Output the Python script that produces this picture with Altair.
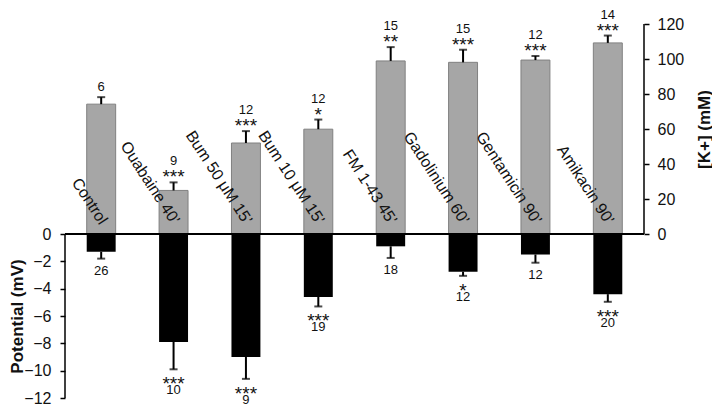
import altair as alt
import pandas as pd

categories = ["Control", "Ouabaine 40\u2019", "Bum 50 \u03bcM 15\u2019", "Bum 10 \u03bcM 15\u2019",
              "FM 1-43 45\u2019", "Gadolinium 60\u2019", "Gentamicin 90\u2019", "Amikacin 90\u2019"]
k_mean = [74.2, 24.9, 52.0, 59.9, 98.9, 98.1, 99.4, 109.2]
k_err = [4.0, 4.6, 6.8, 5.5, 7.9, 7.2, 2.3, 4.2]
k_n = ["6", "9", "12", "12", "15", "15", "12", "14"]
k_sig = ["", "***", "***", "*", "**", "***", "***", "***"]
pot_mean = [-1.3, -7.9, -9.0, -4.6, -0.9, -2.76, -1.5, -4.4]
pot_err = [0.5, 2.0, 1.6, 0.7, 0.85, 0.3, 0.6, 0.56]
pot_n = ["26", "10", "9", "19", "18", "12", "12", "20"]
pot_sig = ["", "***", "***", "***", "", "*", "", "***"]

mv_ticks = [-12, -10, -8, -6, -4, -2, 0]
k_ticks = [0, 20, 40, 60, 80, 100, 120]

df = pd.DataFrame({
    "cat": categories,
    "k": k_mean,
    "k_hi": [m + e for m, e in zip(k_mean, k_err)],
    "k_n": k_n,
    "k_sig": k_sig,
    "pot": pot_mean,
    "pot_lo": [m - e for m, e in zip(pot_mean, pot_err)],
    "pot_n": pot_n,
    "pot_sig": pot_sig,
})
mv_axis_df = pd.DataFrame({"lo": [min(mv_ticks)], "hi": [max(mv_ticks)]})
k_axis_df = pd.DataFrame({"lo": [min(k_ticks)], "hi": [max(k_ticks)]})

W, H = 579, 374
FONT = "Liberation Sans"
NUM_FS = 13
STAR_FS = 19
# zero line shared by both axes: 164 px above the bottom of the 374 px plot
mv_scale = alt.Scale(domain=[-12, 15.37], nice=False, zero=False)
k_scale = alt.Scale(domain=[-93.7, 120], nice=False, zero=False)
X = alt.X("cat:N", sort=categories, axis=None,
          scale=alt.Scale(paddingInner=0.6, paddingOuter=0.3))

base = alt.Chart(df)

mv_axis = alt.Axis(values=mv_ticks, domain=False, grid=False, tickColor="black", tickWidth=1.5,
                   tickSize=5, labelPadding=9, labelFontSize=16, labelFont=FONT, labelColor="#111",
                   title="Potential (mV)", titleFont=FONT, titleFontSize=17, titleFontWeight="bold",
                   titleColor="#111", titleAngle=270, titleAlign="center", titleBaseline="middle",
                   titleX=-48, titleY=292, orient="left")
k_axis = alt.Axis(values=k_ticks, domain=False, grid=False, tickColor="black", tickWidth=1.5,
                  tickSize=5, labelPadding=8, labelFontSize=16, labelFont=FONT, labelColor="#111",
                  title="[K+] (mM)", titleFont=FONT, titleFontSize=17, titleFontWeight="bold",
                  titleColor="#111", titleAngle=270, titleAlign="center", titleBaseline="middle",
                  titleX=60, titleY=105, orient="right")

# ---- potential (left axis, downward black bars)
black_bars = base.mark_bar(color="black").encode(
    x=X, y=alt.Y("pot:Q", scale=mv_scale, axis=mv_axis), y2=alt.datum(0))
pot_err_line = base.mark_rule(color="black", strokeWidth=2).encode(
    x=X, y=alt.Y("pot:Q", scale=mv_scale), y2="pot_lo:Q")
pot_cap = base.mark_tick(color="black", size=8, thickness=2).encode(
    x=X, y=alt.Y("pot_lo:Q", scale=mv_scale))
pot_stars = base.mark_text(baseline="alphabetic", dy=21, fontSize=STAR_FS, font=FONT,
                           color="#111").encode(
    x=X, y=alt.Y("pot_lo:Q", scale=mv_scale), text="pot_sig:N"
).transform_filter(alt.datum.pot_sig != "")
pot_n_star = base.mark_text(baseline="alphabetic", dy=25, fontSize=NUM_FS, font=FONT,
                            color="#111").encode(
    x=X, y=alt.Y("pot_lo:Q", scale=mv_scale), text="pot_n:N"
).transform_filter(alt.datum.pot_sig != "")
pot_n_plain = base.mark_text(baseline="alphabetic", dy=16, fontSize=NUM_FS, font=FONT,
                             color="#111").encode(
    x=X, y=alt.Y("pot_lo:Q", scale=mv_scale), text="pot_n:N"
).transform_filter(alt.datum.pot_sig == "")
mv_line = alt.Chart(mv_axis_df).mark_rule(color="black", strokeWidth=1.5).encode(
    x=alt.value(0), y=alt.Y("lo:Q", scale=mv_scale), y2="hi:Q")

left = alt.layer(black_bars, pot_err_line, pot_cap, pot_stars, pot_n_star, pot_n_plain, mv_line)

# ---- [K+] (right axis, upward gray bars)
gray_bars = base.mark_bar(color="#a6a6a6", stroke="#808080", strokeWidth=1).encode(
    x=X, y=alt.Y("k:Q", scale=k_scale, axis=k_axis), y2=alt.datum(0))
k_err_line = base.mark_rule(color="black", strokeWidth=2).encode(
    x=X, y=alt.Y("k:Q", scale=k_scale), y2="k_hi:Q")
k_cap = base.mark_tick(color="black", size=8, thickness=2).encode(
    x=X, y=alt.Y("k_hi:Q", scale=k_scale))
k_stars = base.mark_text(baseline="alphabetic", dy=1, fontSize=STAR_FS, font=FONT,
                         color="#111").encode(
    x=X, y=alt.Y("k_hi:Q", scale=k_scale), text="k_sig:N"
).transform_filter(alt.datum.k_sig != "")
k_n_star = base.mark_text(baseline="alphabetic", dy=-17, fontSize=NUM_FS, font=FONT,
                          color="#111").encode(
    x=X, y=alt.Y("k_hi:Q", scale=k_scale), text="k_n:N"
).transform_filter(alt.datum.k_sig != "")
k_n_plain = base.mark_text(baseline="alphabetic", dy=-6, fontSize=NUM_FS, font=FONT,
                           color="#111").encode(
    x=X, y=alt.Y("k_hi:Q", scale=k_scale), text="k_n:N"
).transform_filter(alt.datum.k_sig == "")
zero_line = alt.Chart(k_axis_df).mark_rule(color="black", strokeWidth=2).encode(
    x=alt.value(0), x2=alt.value(W), y=alt.Y("lo:Q", scale=k_scale))
k_line = alt.Chart(k_axis_df).mark_rule(color="black", strokeWidth=1.5).encode(
    x=alt.value(W), y=alt.Y("lo:Q", scale=k_scale), y2="hi:Q")
cat_text = base.mark_text(angle=57, align="right", baseline="alphabetic", dx=-8, dy=-3,
                          fontSize=16, font=FONT, color="#111").encode(
    x=X, y=alt.Y("k0:Q", scale=k_scale), text="cat:N").transform_calculate(k0="0")

right = alt.layer(gray_bars, k_err_line, k_cap, k_stars, k_n_star, k_n_plain,
                  zero_line, k_line, cat_text)

chart = alt.layer(left, right).resolve_scale(y="independent").properties(
    width=W, height=H,
    autosize=alt.AutoSizeParams(type="none"),
    padding={"left": 57, "top": 16, "right": 68, "bottom": 8},
).configure_view(stroke=None)

chart.save("out.html", embed_options={"renderer": "svg", "actions": False})
